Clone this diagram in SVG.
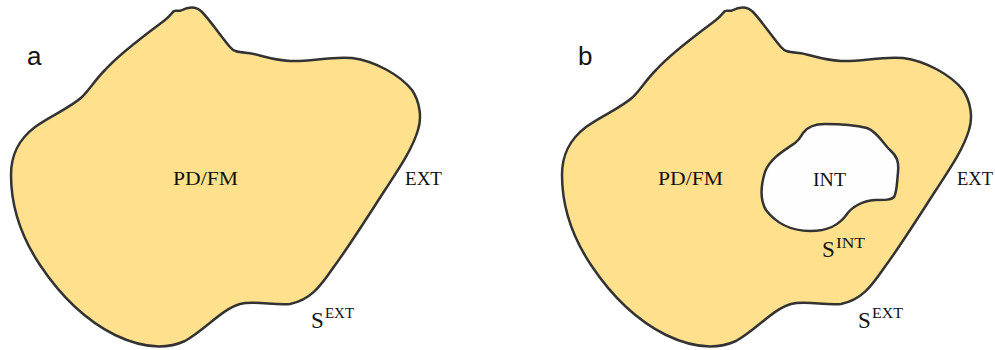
<svg xmlns="http://www.w3.org/2000/svg" xmlns:xlink="http://www.w3.org/1999/xlink" width="995" height="350" viewBox="0 0 995 350">
<style>
.region{fill:#FFE08C;stroke:#333333;stroke-width:2.5;stroke-linejoin:round}
.hole{fill:#FEFEFE;stroke:#333333;stroke-width:2.5;stroke-linejoin:round}
.lbl{font-family:"Liberation Serif","DejaVu Serif",serif;font-size:19px;fill:#111}
.sub{font-family:"Liberation Serif","DejaVu Serif",serif;font-size:15px;fill:#111}
.big{font-family:"Liberation Serif","DejaVu Serif",serif;font-size:23px;fill:#111}
.tag{font-family:"Liberation Sans","Open Sans",sans-serif;font-size:26px;fill:#111}
</style>
<defs>
<path id="outline" d="M174,11 C176,10 178,11.5 181,10.5 C186,8 195,5 202,12 C210,20 222,38 230,47 C234,52 238,52 248,53 C258,54 270,60 290,61 C310,62 330,56 352,58 C375,61 400,75 412,90 C420,102 422,118 418,130 C412,150 398,170 385,190 C370,213 350,245 333,268 C320,287 310,300 290,304 C275,306 255,300 240,304 C222,309 205,330 185,341 C165,350 140,347 115,335 C85,320 60,295 40,265 C20,235 11,205 11,175 C11,155 18,140 35,127 C50,116 70,108 82,97 C90,89 95,80 105,70 C120,53 145,35 165,20 C169,17 172,13 174,11 Z"/>
</defs>
<g id="panel-a">
<use xlink:href="#outline" href="#outline" class="region"/>
<text class="tag" x="27" y="65">a</text>
<text class="lbl" x="173" y="185" textLength="65" lengthAdjust="spacingAndGlyphs">PD/FM</text>
<text class="lbl" x="405" y="185" textLength="37" lengthAdjust="spacingAndGlyphs">EXT</text>
<text x="311" y="328"><tspan class="big">S</tspan><tspan class="sub" x="325" y="318" textLength="29" lengthAdjust="spacingAndGlyphs">EXT</tspan></text>
</g>
<g id="panel-b">
<use xlink:href="#outline" href="#outline" class="region" transform="translate(551,0)"/>
<text class="tag" x="578" y="65">b</text>
<text class="lbl" x="658" y="185" textLength="65" lengthAdjust="spacingAndGlyphs">PD/FM</text>
<text class="lbl" x="957" y="185" textLength="36" lengthAdjust="spacingAndGlyphs">EXT</text>
<text x="858" y="328"><tspan class="big">S</tspan><tspan class="sub" x="872" y="318" textLength="31" lengthAdjust="spacingAndGlyphs">EXT</tspan></text>
</g>
<g id="hole-int">
<path class="hole" d="M803,133 C808,126 815,124 825,124 C840,124 855,125 867,128 C878,132 884,145 890,150 C897,156 899,162 898,172 C897,182 897,192 894,197 C891,200 885,200 875,200 C862,201 852,207 847,214 C840,224 830,231 810,231 C790,231 775,222 766,210 C760,200 761,185 765,172 C770,158 785,150 795,143 C800,139 801,136 803,133 Z"/>
<text class="lbl" x="813" y="186" textLength="33" lengthAdjust="spacingAndGlyphs">INT</text>
<text x="822" y="257"><tspan class="big">S</tspan><tspan class="sub" x="836" y="248" textLength="29" lengthAdjust="spacingAndGlyphs">INT</tspan></text>
</g>
</svg>
